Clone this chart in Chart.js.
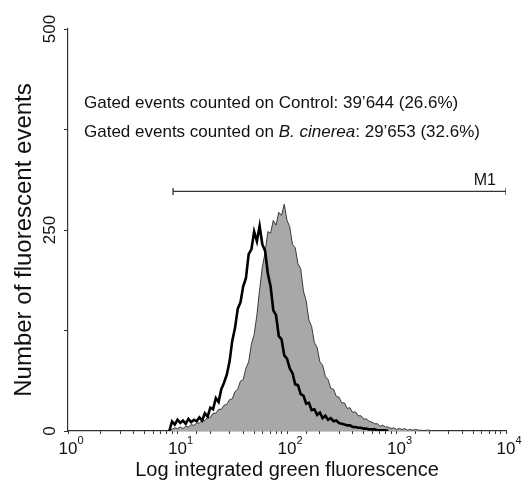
<!DOCTYPE html>
<html>
<head>
<meta charset="utf-8">
<script src="https://cdn.jsdelivr.net/npm/chart.js@4.4.0/dist/chart.umd.min.js"></script>
<style>
  html, body { margin: 0; padding: 0; background: #fff; }
</style>
</head>
<body>
<canvas id="histChart" width="525" height="480"></canvas>
<script>
// Histogram channels: log10 of the first bin and the bin width (decades)
const channelStart = 0.925;
const channelStep = 0.025;

// Control (thick black outline)
const controlCounts = [
  0, 12, 8, 14, 10, 13, 9, 15, 11, 14,
  12, 17, 13, 22, 18, 29, 27, 41, 36, 52,
  60, 70, 86, 112, 128, 152, 160, 180, 190, 220,
  226, 248, 236, 255, 232, 224, 196, 180, 150, 144,
  118, 114, 94, 90, 78, 72, 58, 57, 46, 44,
  34, 35, 26, 27, 20, 23, 16, 19, 14, 16,
  12, 13, 10, 9, 8, 7, 7, 5, 5, 4,
  4, 3, 3, 2, 2, 2, 1, 1, 1, 1,
  0
];

// B. cinerea (grey filled)
const cinereaCounts = [
  0, 2, 4, 3, 5, 3, 6, 5, 8, 7,
  10, 10, 13, 13, 17, 17, 22, 22, 27, 27,
  32, 33, 39, 40, 49, 52, 62, 64, 78, 86,
  108, 120, 144, 176, 204, 222, 248, 246, 262, 256,
  272, 268, 282, 262, 254, 232, 228, 208, 202, 174,
  162, 138, 130, 110, 104, 86, 82, 68, 64, 53,
  52, 43, 42, 35, 35, 28, 29, 23, 24, 19,
  19, 15, 15, 12, 11, 9, 9, 6, 7, 5,
  5, 3, 4, 2, 3, 2, 3, 1, 2, 1,
  2, 1, 1, 0, 1, 1, 0, 0
];

// Axis ticks
const xTickExps = [0, 1, 2, 3, 4];
const yTickLabels = [0, 250, 500];

// M1 gate marker
const markerRange = [9.1, 10000];
const markerLevel = 298;

const gateLines = [
  ['Gated events counted on Control: 39\u2019644 (26.6%)'],
  ['Gated events counted on ', 'B. cinerea', ': 29\u2019653 (32.6%)'],
];

const FONT = '"Liberation Sans", Arial, sans-serif';

function toPoints(counts) {
  return counts.map((v, i) => ({ x: Math.pow(10, channelStart + i * channelStep), y: v }));
}

// Draw all the text (superscript ticks, rotated labels, notes)
const textPlugin = {
  id: 'textPlugin',
  afterDraw(chart) {
    const ctx = chart.ctx;
    const xs = chart.scales.x;
    const ys = chart.scales.y;
    ctx.save();
    ctx.fillStyle = '#111';

    // x tick labels 10^n
    xTickExps.forEach((e) => {
      const px = xs.getPixelForValue(Math.pow(10, e));
      ctx.font = '17px ' + FONT;
      ctx.textAlign = 'center';
      ctx.textBaseline = 'alphabetic';
      const w = ctx.measureText('10').width;
      ctx.fillText('10', px, 454);
      ctx.font = '11px ' + FONT;
      ctx.textAlign = 'left';
      ctx.fillText(String(e), px + w / 2, 444);
    });

    // y tick labels, rotated
    yTickLabels.forEach((v) => {
      const py = ys.getPixelForValue(v);
      ctx.save();
      ctx.translate(55, py);
      ctx.rotate(-Math.PI / 2);
      ctx.font = '17px ' + FONT;
      ctx.textAlign = 'center';
      ctx.fillText(String(v), 0, 0);
      ctx.restore();
    });

    // axis titles
    ctx.font = '20px ' + FONT;
    ctx.textAlign = 'center';
    ctx.fillText('Log integrated green fluorescence', (xs.left + xs.right) / 2, 476);
    ctx.save();
    ctx.translate(31, 240);
    ctx.rotate(-Math.PI / 2);
    ctx.font = '24px ' + FONT;
    ctx.fillText('Number of fluorescent events', 0, 0);
    ctx.restore();

    // gate notes
    ctx.textAlign = 'left';
    gateLines.forEach((parts, row) => {
      let x = 84;
      const y = 108 + row * 29;
      parts.forEach((p, k) => {
        ctx.font = (k === 1 ? 'italic ' : '') + '17px ' + FONT;
        ctx.fillText(p, x, y);
        x += ctx.measureText(p).width;
      });
    });

    // marker label
    ctx.font = '16px ' + FONT;
    ctx.textAlign = 'right';
    ctx.fillText('M1', xs.getPixelForValue(markerRange[1]) - 10, ys.getPixelForValue(markerLevel) - 6);
    ctx.restore();
  },
};

const config = {
  type: 'line',
  data: {
    datasets: [
      {
        label: 'Control',
        data: toPoints(controlCounts),
        borderColor: '#000',
        borderWidth: 2.6,
        pointRadius: 0,
        fill: false,
        tension: 0,
      },
      {
        label: 'B. cinerea',
        data: toPoints(cinereaCounts),
        borderColor: '#3a3a3a',
        borderWidth: 1,
        backgroundColor: '#a8a8a8',
        pointRadius: 0,
        fill: 'origin',
        tension: 0,
      },
      {
        label: 'M1',
        data: markerRange.map((x) => ({ x: x, y: markerLevel })),
        borderColor: '#333',
        borderWidth: 1.3,
        pointStyle: 'line',
        rotation: 90,
        pointRadius: 3.5,
        pointBorderColor: '#333',
        pointBorderWidth: 1.3,
        fill: false,
      },
    ],
  },
  options: {
    responsive: false,
    animation: false,
    layout: {
      padding: { left: 64, right: 19, top: 29, bottom: 46 },
    },
    plugins: {
      legend: { display: false },
      tooltip: { enabled: false },
    },
    scales: {
      x: {
        type: 'logarithmic',
        min: 1,
        max: 10000,
        border: { display: true, color: '#333', width: 1.2 },
        grid: { drawOnChartArea: false, drawTicks: true, tickLength: 3, color: '#333' },
        ticks: { display: false, autoSkip: false },
      },
      y: {
        type: 'linear',
        min: 0,
        max: 500,
        border: { display: true, color: '#333', width: 1.2 },
        grid: { drawOnChartArea: false, drawTicks: true, tickLength: 4, color: '#333' },
        ticks: { display: false, stepSize: 125 },
      },
    },
  },
  plugins: [textPlugin],
};

new Chart(document.getElementById('histChart'), config);
</script>
</body>
</html>
